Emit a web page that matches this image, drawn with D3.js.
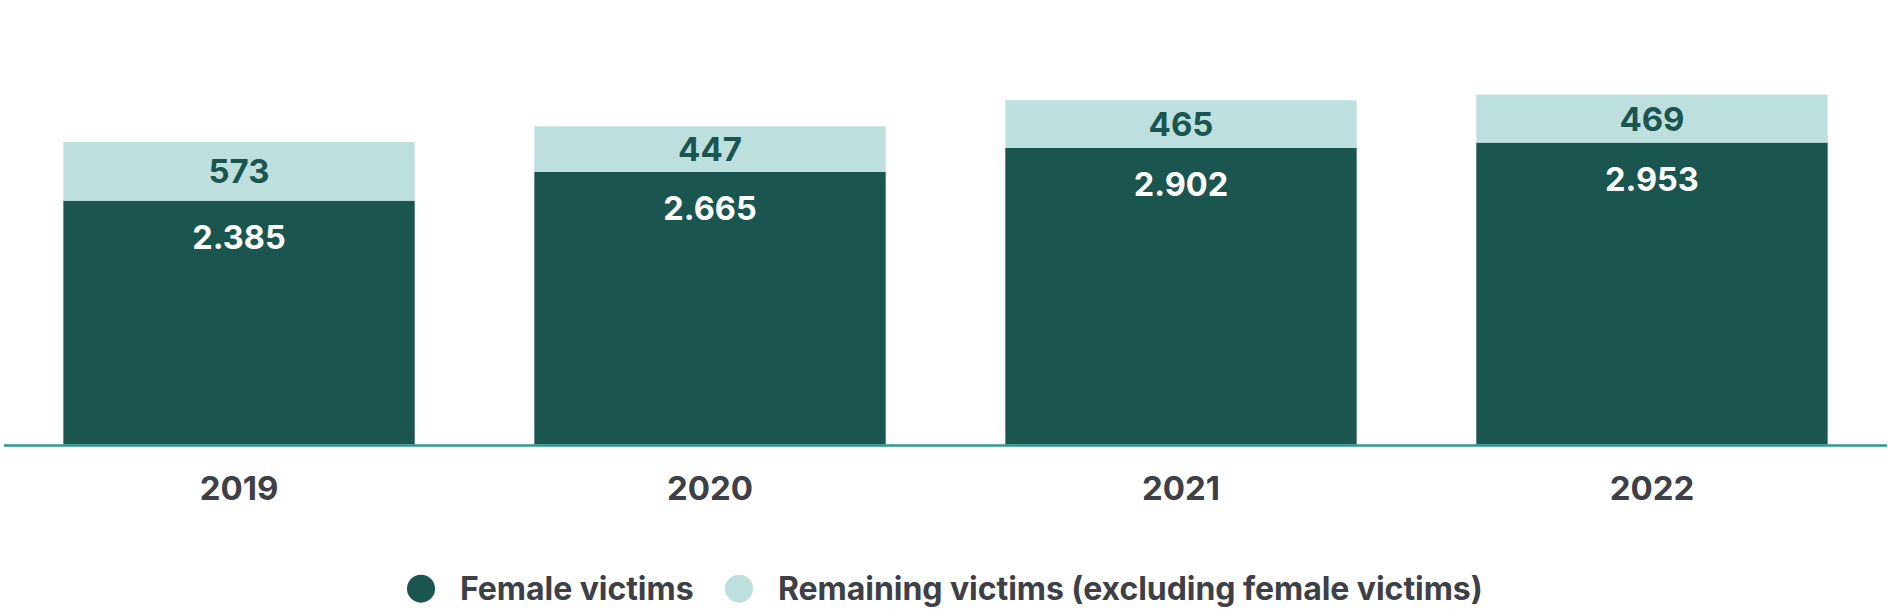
<!DOCTYPE html>
<html>
<head>
<meta charset="utf-8">
<script src="https://cdn.jsdelivr.net/npm/d3@7"></script>
<style>
  html, body { margin: 0; padding: 0; background: #ffffff; }
  svg { display: block; }
  text { font-family: Inter, "Noto Sans", sans-serif; font-weight: 700; }
</style>
</head>
<body>
<svg id="chart" width="1888" height="609"></svg>
<script>
const years = ["2019", "2020", "2021", "2022"];
const femaleVictims = [2385, 2665, 2902, 2953];
const remainingVictims = [573, 447, 465, 469];
const seriesNames = ["Female victims", "Remaining victims (excluding female victims)"];
const colors = ["#1a554f", "#bde0df"];

const fmt = v => d3.format(",")(v).replace(/,/g, ".");

const svg = d3.select("#chart");
const baseline = 444.5;

const x = d3.scaleBand().domain(years).range([4, 1887]).paddingInner(0.254).paddingOuter(0.126);
const y = d3.scaleLinear().domain([0, 3500]).range([baseline, baseline - 3500 * 0.10225]);

const data = years.map((yr, i) => ({ year: yr, female: femaleVictims[i], remaining: remainingVictims[i] }));
const stack = d3.stack().keys(["female", "remaining"])(data);

const g = svg.append("g");
stack.forEach((layer, li) => {
  g.selectAll(null).data(layer).enter().append("rect")
    .attr("x", d => x(d.data.year))
    .attr("width", x.bandwidth())
    .attr("y", d => y(d[1]))
    .attr("height", d => y(d[0]) - y(d[1]))
    .attr("fill", colors[li]);
});

// axis
const axis = d3.axisBottom(x).tickSize(0).tickPadding(0);
const ax = svg.append("g").attr("transform", `translate(0,${baseline})`).call(axis);
ax.select(".domain").attr("stroke", "#2f988e").attr("stroke-width", 2.5).attr("d", "M4,1H1887");
ax.selectAll(".tick text")
  .attr("y", 55.5).attr("dy", null)
  .attr("font-size", 33).attr("font-family", "Inter, sans-serif").attr("font-weight", 700)
  .attr("fill", "#3d4047");

// labels - female (white)
g.selectAll(null).data(stack[0]).enter().append("text")
  .attr("x", d => x(d.data.year) + x.bandwidth() / 2)
  .attr("y", d => y(d[1]) + 48)
  .attr("text-anchor", "middle")
  .attr("font-size", 32.5)
  .attr("fill", "#ffffff")
  .text(d => fmt(d.data.female));

// labels - remaining
g.selectAll(null).data(stack[1]).enter().append("text")
  .attr("x", d => x(d.data.year) + x.bandwidth() / 2)
  .attr("y", d => (y(d[0]) + y(d[1])) / 2 + 12)
  .attr("text-anchor", "middle")
  .attr("font-size", 33)
  .attr("fill", "#1a554f")
  .text(d => fmt(d.data.remaining));

// legend
const lg = svg.append("g");
const legX = [421, 739];
seriesNames.forEach((name, i) => {
  lg.append("circle").attr("cx", legX[i]).attr("cy", 588.7).attr("r", 14).attr("fill", colors[i]);
  lg.append("text").attr("x", legX[i] + 39).attr("y", 600)
    .attr("font-size", 32).attr("fill", "#3d4047")
    .attr("letter-spacing", -0.05)
    .text(name);
});
</script>
</body>
</html>
